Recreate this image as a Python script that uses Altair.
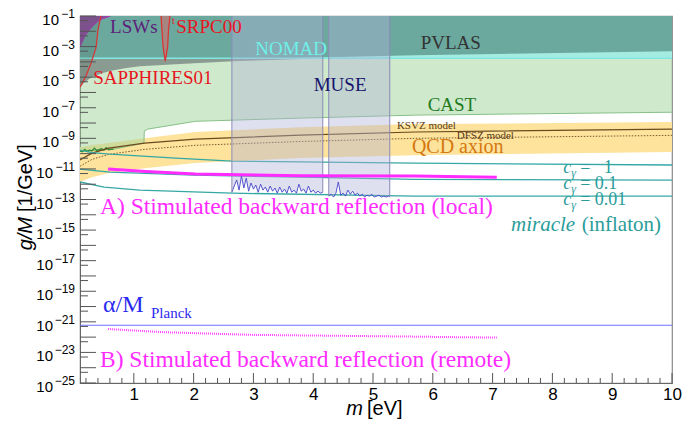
import altair as alt
import pandas as pd

M_DOMAIN = [0.1, 10.0]
G_DOMAIN = [1e-25, 1e-1]
G_TOP = 1e-1

# ---------------- data ----------------
qcd_m = [0.1, 0.3, 0.58, 1.18, 2.03, 3.79, 5.71, 10.0]
qcd_hi = [2.6e-10, 3.6e-10, 4.9e-10, 1.0e-9, 2.6e-9, 5.4e-9, 8.5e-9, 1.15e-8]
qcd_lo = [1.4e-12, 2.9e-12, 5.4e-12, 1.1e-11, 2.4e-11, 5.1e-11, 7.9e-11, 1.26e-10]
ksvz_g = [3.8e-11, 1.07e-10, 2.3e-10, 4.9e-10, 8.9e-10, 1.6e-9, 2.6e-9, 4.0e-9]
dfsz_g = [1.5e-11, 4.2e-11, 9.0e-11, 1.9e-10, 3.5e-10, 6.2e-10, 1.0e-9, 1.56e-9]

cast_m = [0.1, 0.66, 1.17, 1.175, 1.23, 2.03, 3.79, 5.71, 10.0]
cast_g = [1.45e-10, 1.95e-10, 4.9e-10, 2.95e-9, 4.0e-9, 1.3e-8, 2.1e-8, 3.3e-8, 5.1e-8]
cast_he_m = [0.1, 0.14, 0.18, 0.22, 0.26, 0.3, 0.34, 0.38, 0.42, 0.46, 0.5, 0.54, 0.58, 0.62, 0.66]
cast_he_g = [1.45e-10, 1.3e-10, 1.9e-10, 1.4e-10, 1.7e-10, 1.5e-10, 2.3e-10, 1.6e-10,
             1.8e-10, 2.1e-10, 1.7e-10, 2.5e-10, 1.8e-10, 1.9e-10, 1.95e-10]

pvlas_m = [0.1, 2.66, 4.2, 5.7, 10.0]
pvlas_g = [1.5e-4, 1.5e-4, 2.0e-4, 2.75e-4, 5.0e-4]
nomad_m = [0.1, 10.0]
nomad_g = [1.74e-4, 1.74e-4]
gray_m = [0.1, 0.18, 0.27, 0.43, 0.6, 0.85, 1.1, 1.7, 2.66, 4.2]
gray_g = [2.6e-6, 4.7e-6, 8.5e-6, 1.6e-5, 2.5e-5, 3.9e-5, 5.2e-5, 7.1e-5, 1.1e-4, 1.74e-4]
lsw_m = [0.1, 0.19, 0.31, 0.44, 0.59]
lsw_g = [9.1e-4, 5.6e-3, 2.1e-2, 6.2e-2, 1e-1]
lsw2_m = [0.1, 0.25, 0.42, 0.61]
lsw2_g = [2.2e-3, 1.9e-2, 5.4e-2, 1e-1]
sapph_m = [0.1, 0.13, 0.2, 0.28, 0.37, 0.4, 0.45]
sapph_g = [2.2e-6, 3.5e-6, 1.2e-5, 7.1e-5, 9.1e-4, 1.2e-2, 1e-1]
srpc_m = [1.455, 1.47, 1.49, 1.526, 1.565, 1.58, 1.605]
srpc_g = [1e-1, 1.2e-2, 9.1e-4, 1.1e-4, 9.1e-4, 1.2e-2, 1e-1]

muse1_m = [2.64, 2.68, 2.72, 2.76, 2.80, 2.84, 2.88, 2.92, 2.96, 3.00, 3.04, 3.08, 3.12,
           3.16, 3.20, 3.24, 3.28, 3.32, 3.36, 3.40, 3.44, 3.48, 3.52, 3.56, 3.60, 3.64,
           3.68, 3.72, 3.76, 3.80, 3.84, 3.88, 3.92, 3.96, 4.00, 4.04, 4.08, 4.12, 4.16]
muse1_g = [3.0e-13, 7.6e-13, 1.9e-12, 4.1e-13, 3.4e-12, 5.6e-13, 2.5e-12, 3.5e-13, 1.2e-12,
           4.8e-13, 8.8e-13, 3.0e-13, 1.0e-12, 4.1e-13, 6.5e-13, 3.0e-13, 7.6e-13, 3.5e-13,
           5.6e-13, 2.6e-13, 6.5e-13, 3.0e-13, 4.8e-13, 2.6e-13, 7.6e-13, 3.0e-13, 4.1e-13,
           2.6e-13, 1.0e-12, 3.5e-13, 4.8e-13, 2.6e-13, 7.6e-13, 3.0e-13, 4.1e-13, 2.6e-13,
           3.5e-13, 2.6e-13, 3.0e-13]
muse2_m = [4.26, 4.30, 4.34, 4.38, 4.42, 4.46, 4.50, 4.54, 4.58, 4.62, 4.66, 4.70, 4.74,
           4.78, 4.82, 4.86, 4.90, 4.94, 4.98, 5.02, 5.06, 5.10, 5.14, 5.18, 5.22, 5.26, 5.28]
muse2_g = [1.67e-13, 2.2e-13, 1.45e-13, 2.6e-13, 1.4e-12, 1.9e-13, 2.6e-13, 1.67e-13, 4.1e-13,
           2.2e-13, 3.5e-13, 1.9e-13, 2.6e-13, 1.67e-13, 2.2e-13, 1.45e-13, 1.9e-13, 1.67e-13,
           2.2e-13, 1.45e-13, 1.67e-13, 1.9e-13, 1.45e-13, 1.67e-13, 1.45e-13, 1.67e-13, 1.45e-13]

c1_m = [0.1, 0.3, 0.6, 1.7, 2.64, 5.7, 10.0]
c1_g = [1.7e-10, 1.17e-10, 9.3e-11, 5.1e-11, 3.2e-11, 2.4e-11, 1.8e-11]
c01_m = [0.1, 0.6, 2.0, 3.8, 5.7, 10.0]
c01_g = [9.8e-12, 6.2e-12, 3.9e-12, 2.9e-12, 2.1e-12, 1.85e-12]
c001_m = [0.1, 0.5, 1.1, 2.64, 5.7, 10.0]
c001_g = [1.4e-12, 6.5e-13, 4.1e-13, 2.6e-13, 1.67e-13, 1.67e-13]

sbr_local_m = [0.57, 1.2, 2.03, 3.8, 5.7, 7.07]
sbr_local_g = [9.8e-12, 6.8e-12, 4.6e-12, 3.6e-12, 3.4e-12, 2.9e-12]
sbr_remote_m = [0.57, 1.5, 3.0, 4.6, 7.07]
sbr_remote_g = [3.4e-22, 2.1e-22, 1.4e-22, 1.2e-22, 9.3e-23]
planck_m = [0.1, 10.0]
planck_g = [6e-22, 6e-22]

# annotation anchors (m, g)
lbl_text = ["LSWs", "SRPC00", "t", "SAPPHIRES01", "NOMAD", "PVLAS", "MUSE", "CAST",
            "KSVZ model", "DFSZ model", "QCD axion",
            "A) Stimulated backward reflection (local)",
            "B) Stimulated backward reflection (remote)",
            "α/M", "Planck", "miracle", "(inflaton)"]
lbl_m = [1.0, 1.71, 1.64, 0.32, 3.63, 6.30, 4.45, 6.32, 5.40, 6.40, 5.65, 0.434, 0.434,
         0.485, 1.254, 8.38, 8.49]
lbl_g = [1.9e-2, 1.9e-2, 4.6e-2, 8.5e-6, 6.8e-4, 1.66e-3, 3.0e-6, 1.5e-7, 6.3e-9, 1.38e-9,
         2.6e-10, 3.2e-14, 3.2e-24, 1.26e-20, 3.8e-21, 2.1e-15, 2.1e-15]
cg_values = ["=\u00a0\u00a0\u00a01", "=\u00a00.1", "=\u00a00.01"]
cg_m = [8.18, 8.18, 8.18]
cg_g = [1.1e-11, 1.1e-12, 9.8e-14]

# axis tick positions
x_major = [1, 2, 3, 4, 5, 6, 7, 8, 9, 10]
x_minor = [round(0.2 * k, 1) for k in range(1, 50) if k % 5 != 0]
y_decades = [10.0 ** k for k in range(-25, 0)]
y_fives = [5 * 10.0 ** k for k in range(-25, -1)]
ylab1_g = [1e-1, 1e-3, 1e-5, 1e-7, 1e-9]
ylab1_e = ["\u22121", "\u22123", "\u22125", "\u22127", "\u22129"]
ylab2_g = [1e-11, 1e-13, 1e-15, 1e-17, 1e-19, 1e-21, 1e-23, 1e-25]
ylab2_e = ["\u221211", "\u221213", "\u221215", "\u221217", "\u221219", "\u221221",
           "\u221223", "\u221225"]

# ---------------- chart ----------------
SERIF = "Liberation Serif"
SANS = "Liberation Sans"
W, H = 592, 367

x_axis = alt.Axis(values=x_major, ticks=False, grid=False, title=None, labelFont=SANS,
                  labelFontSize=17, labelColor="black", labelPadding=3, labelFlush=False,
                  domainColor="#666666", labelOverlap=False)
y_axis = alt.Axis(labels=False, ticks=False, grid=False, title=None, domainColor="#666666")
X = alt.X("m:Q", scale=alt.Scale(domain=M_DOMAIN, nice=False, zero=False), axis=x_axis)
Y = alt.Y("g:Q", scale=alt.Scale(type="log", domain=G_DOMAIN, nice=False), axis=y_axis)


def area(m, lo, hi, color, opacity=1.0):
    d = pd.DataFrame({"m": m, "g": lo, "g2": hi})
    return alt.Chart(d).mark_area(color=color, opacity=opacity, clip=True).encode(
        x=X, y=Y, y2=alt.Y2("g2"))


def line(m, g, color, width=1.0, dash=None, opacity=1.0):
    d = pd.DataFrame({"m": m, "g": g, "i": list(range(len(m)))})
    kw = dict(color=color, strokeWidth=width, clip=True, opacity=opacity)
    if dash:
        kw["strokeDash"] = dash
    return alt.Chart(d).mark_line(**kw).encode(x=X, y=Y, order="i:Q")


def text(i, color, size, style="normal", align="center", dx=0, dy=0):
    d = pd.DataFrame({"m": [lbl_m[i]], "g": [lbl_g[i]], "t": [lbl_text[i]]})
    return alt.Chart(d).mark_text(color=color, fontSize=size, font=SERIF, fontStyle=style,
                                  align=align, baseline="middle", dx=dx, dy=dy).encode(
        x=X, y=Y, text="t:N")


def ptext(t, px, py, size, style="normal", align="center", angle=0):
    d = pd.DataFrame({"t": [t]})
    return alt.Chart(d).mark_text(x=px, y=py, fontSize=size, font=SANS, fontStyle=style,
                                  align=align, baseline="middle", angle=angle,
                                  color="black").encode(text="t:N")


layers = [
    area(qcd_m, qcd_lo, qcd_hi, "#fde39c"),
    area(cast_m, cast_g, G_TOP, "#9fd49a", 0.5),
    line(cast_m, cast_g, "#86c086", 1.0),
    area(nomad_m, nomad_g, G_TOP, "#a4ebe2"),
    area(pvlas_m, pvlas_g, G_TOP, "#6ba89e"),
    area(gray_m, gray_g, 1.74e-4, "#8a9c92"),
    line(nomad_m, nomad_g, "#7fe8e0", 1.5),
    area(lsw_m, lsw_g, G_TOP, "#8a4196", 0.85),
    line(lsw_m, lsw_g, "#a040b0", 1.0),
    line(lsw2_m, lsw2_g, "#a040b0", 1.0),
    area(sapph_m, sapph_g, G_TOP, "#4f5f5a", 0.18),
    line(sapph_m, sapph_g, "#e03030", 1.2),
    area(srpc_m, srpc_g, G_TOP, "#d86a6a", 0.55),
    line(srpc_m, srpc_g, "#e03030", 1.2),
    line(cast_he_m, cast_he_g, "#2e8b2e", 1.3),
    line(qcd_m, ksvz_g, "#6b4a1e", 1.2),
    line(qcd_m, dfsz_g, "#7a5a2e", 1.0, [1.5, 1.5]),
    line(c1_m, c1_g, "#35a8a5", 1.3),
    line(c01_m, c01_g, "#35a8a5", 1.3),
    line(c001_m, c001_g, "#35a8a5", 1.3),
    area(muse1_m, muse1_g, G_TOP, "#b0b2d8", 0.4),
    area(muse2_m, muse2_g, G_TOP, "#b0b2d8", 0.4),
    line(muse1_m, muse1_g, "#4545c8", 0.9),
    line(muse2_m, muse2_g, "#4545c8", 0.9),
    alt.Chart(pd.DataFrame({"m": [muse1_m[0], muse1_m[-1], muse2_m[0], muse2_m[-1]],
                            "g": [muse1_g[0], muse1_g[-1], muse2_g[0], muse2_g[-1]],
                            "g2": [G_TOP] * 4})).mark_rule(color="#8a8ab8", strokeWidth=1).encode(
        x=X, y=Y, y2=alt.Y2("g2")),
    line(sbr_local_m, sbr_local_g, "#ff2bff", 3.0),
    line(sbr_remote_m, sbr_remote_g, "#ff44ff", 2.0, [1, 1]),
    line(planck_m, planck_g, "#7070ff", 1.2),
    # labels
    text(0, "#5c1f7a", 19),
    text(1, "#e8161e", 19, align="left"),
    text(2, "#e8161e", 10, align="left"),
    text(3, "#e8161e", 19, align="left"),
    text(4, "#6ef0e8", 19),
    text(5, "#333333", 19),
    text(6, "#16166e", 19),
    text(7, "#1e7b1e", 19),
    text(8, "#5b3a16", 11, align="left"),
    text(9, "#5b3a16", 11, align="left"),
    text(10, "#d5780f", 20, align="left"),
    text(11, "#ff2bff", 23.5, align="left"),
    text(12, "#ff2bff", 23.5, align="left"),
    text(13, "#2b2bf0", 24, align="left"),
    text(14, "#2b2bf0", 15, align="left", dx=2),
    text(15, "#2a9d9a", 21, style="italic", align="right"),
    text(16, "#2a9d9a", 21, align="left"),
]

cg_df = pd.DataFrame({"m": cg_m, "g": cg_g, "v": cg_values, "c": ["c"] * 3, "s": ["γ"] * 3})
layers += [
    alt.Chart(cg_df).mark_text(color="#2a9d9a", fontSize=18, font=SERIF, fontStyle="italic",
                               align="left", baseline="middle").encode(x=X, y=Y, text="c:N"),
    alt.Chart(cg_df).mark_text(color="#2a9d9a", fontSize=12, font=SERIF, fontStyle="italic",
                               align="left", baseline="middle", dx=8, dy=5).encode(
        x=X, y=Y, text="s:N"),
    alt.Chart(cg_df).mark_text(color="#2a9d9a", fontSize=18, font=SERIF, align="left",
                               baseline="middle", dx=17).encode(x=X, y=Y, text="v:N"),
]

# ticks (drawn inside the frame) and y labels
layers += [
    alt.Chart(pd.DataFrame({"m": x_major})).mark_rule(color="#555555").encode(
        x=X, y=alt.value(H), y2=alt.value(H - 10)),
    alt.Chart(pd.DataFrame({"m": x_minor})).mark_rule(color="#555555").encode(
        x=X, y=alt.value(H), y2=alt.value(H - 5)),
    alt.Chart(pd.DataFrame({"g": y_decades})).mark_rule(color="#555555").encode(
        y=Y, x=alt.value(0), x2=alt.value(16)),
    alt.Chart(pd.DataFrame({"g": y_fives})).mark_rule(color="#555555").encode(
        y=Y, x=alt.value(0), x2=alt.value(8)),
    alt.Chart(pd.DataFrame({"g": ylab1_g, "t": ["10"] * len(ylab1_g), "e": ylab1_e})).mark_text(
        font=SANS, fontSize=15, align="right", baseline="middle", dy=4, color="black").encode(
        y=Y, x=alt.value(-21), text="t:N"),
    alt.Chart(pd.DataFrame({"g": ylab2_g, "t": ["10"] * len(ylab2_g), "e": ylab2_e})).mark_text(
        font=SANS, fontSize=15, align="right", baseline="middle", dy=4, color="black").encode(
        y=Y, x=alt.value(-27), text="t:N"),
    alt.Chart(pd.DataFrame({"g": ylab1_g + ylab2_g, "e": ylab1_e + ylab2_e})).mark_text(
        font=SANS, fontSize=12, align="right", baseline="middle", dy=-2, color="black").encode(
        y=Y, x=alt.value(-5), text="e:N"),
    ptext("g/M", -54, 201, 20, style="italic", align="right", angle=270),
    ptext("[1/GeV]", -54, 196, 20, align="left", angle=270),
    ptext("m", 283, 393, 20, style="italic", align="right"),
    ptext("[eV]", 287, 393, 20, align="left"),
]

chart = alt.layer(*layers).properties(
    width=W, height=H,
    padding={"left": 72, "top": 8, "right": 10, "bottom": 38},
    autosize=alt.AutoSizeParams(type="none"),
    background="white",
).configure_view(stroke="#8a8a8a", strokeWidth=1.2)

chart.save("out.html", embed_options={"renderer": "svg", "actions": False})
